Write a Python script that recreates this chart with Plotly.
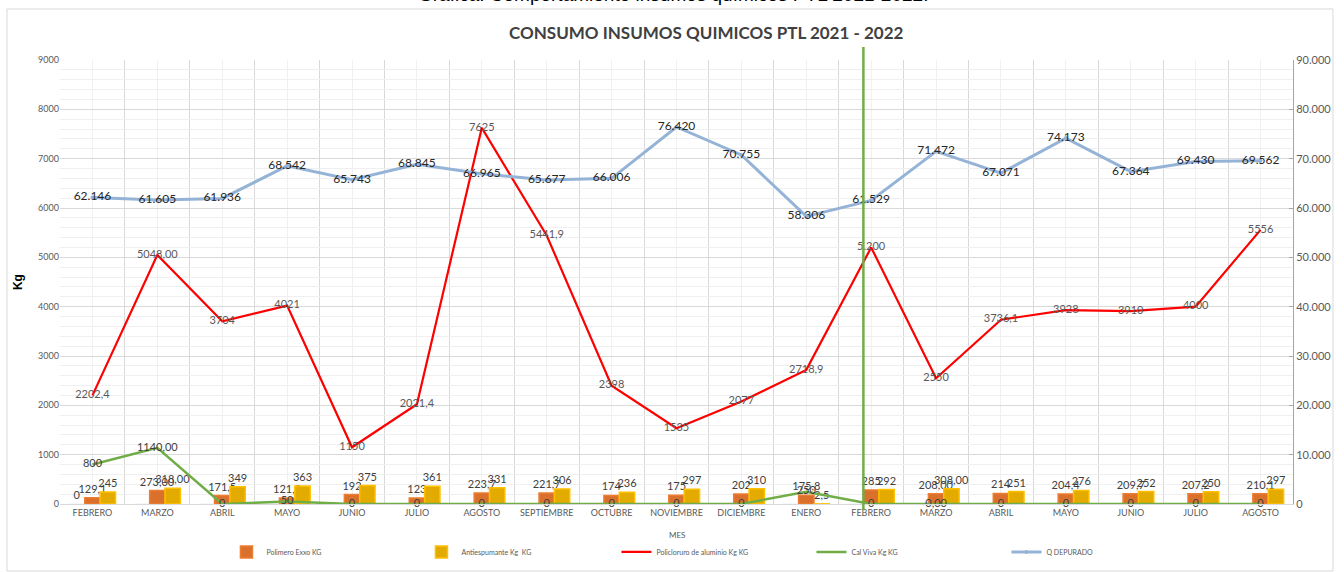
import plotly.graph_objects as go

meses = ["FEBRERO", "MARZO", "ABRIL", "MAYO", "JUNIO", "JULIO", "AGOSTO", "SEPTIEMBRE",
         "OCTUBRE", "NOVIEMBRE", "DICIEMBRE", "ENERO", "FEBRERO", "MARZO", "ABRIL",
         "MAYO", "JUNIO", "JULIO", "AGOSTO"]
pos = list(range(len(meses)))

serie_cero = [0] * 19
serie_cero_txt = ["0"] + [""] * 18

polimero = [129.1, 273.0, 171.5, 121.8, 192, 123, 223.7, 221.7, 174, 175, 202, 175.8,
            285, 208.0, 214, 204.4, 209.7, 207.2, 210.1]
polimero_txt = ["129,1", "273,00", "171,5", "121,8", "192", "123", "223,7", "221,7", "174",
                "175", "202", "175,8", "285", "208,00", "214", "204,4", "209,7", "207,2", "210,1"]

antiespumante = [245, 318.0, 349, 363, 375, 361, 331, 306, 236, 297, 310, 2.5,
                 292, 308.0, 251, 276, 252, 250, 297]
antiespumante_txt = ["245", "318,00", "349", "363", "375", "361", "331", "306", "236", "297",
                     "310", "2,5", "292", "308,00", "251", "276", "252", "250", "297"]

policloruro = [2202.4, 5048.0, 3704, 4021, 1150, 2021.4, 7625, 5441.9, 2398, 1535, 2077,
               2718.9, 5200, 2550, 3736.1, 3928, 3910, 4000, 5556]
policloruro_txt = ["2202,4", "5048,00", "3704", "4021", "1150", "2021,4", "7625", "5441,9",
                   "2398", "1535", "2077", "2718,9", "5.200", "2550", "3736,1", "3928",
                   "3910", "4000", "5556"]

cal_viva = [800, 1140, 0, 50, 0, 0, 0, 0, 0, 0, 0, 250, 0, 0, 0, 0, 0, 0, 0]
cal_viva_txt = ["800", "1140,00", "0", "50", "0", "0", "0", "0", "0", "0", "0", "250",
                "0", "0,00", "0", "0", "0", "0", "0"]

q_depurado = [62146, 61605, 61936, 68542, 65743, 68845, 66965, 65677, 66006, 76420, 70755,
              58306, 61529, 71472, 67071, 74173, 67364, 69430, 69562]
q_depurado_txt = ["62.146", "61.605", "61.936", "68.542", "65.743", "68.845", "66.965",
                  "65.677", "66.006", "76.420", "70.755", "58.306", "61.529", "71.472",
                  "67.071", "74.173", "67.364", "69.430", "69.562"]

FONT = "Lato, Liberation Sans, sans-serif"
LBL = dict(family=FONT, size=11, color="#404040")

fig = go.Figure()
fig.add_trace(go.Bar(x=pos, y=serie_cero, text=serie_cero_txt, textposition="outside",
                     textfont=LBL, marker_color="rgba(0,0,0,0)", showlegend=False,
                     cliponaxis=False, constraintext="none", hoverinfo="skip"))
fig.add_trace(go.Bar(x=pos, y=polimero, name="Polimero Exxo KG", text=polimero_txt,
                     textposition="outside", textfont=LBL, cliponaxis=False,
                     constraintext="none",
                     marker=dict(color="#D9712D", line=dict(color="#ED7D31", width=1.5))))
fig.add_trace(go.Bar(x=pos, y=antiespumante, name="Antiespumante Kg  KG", text=antiespumante_txt,
                     textposition="outside", textfont=LBL, cliponaxis=False,
                     constraintext="none",
                     marker=dict(color="#E3AA00", line=dict(color="#FFC000", width=1.5))))
fig.add_trace(go.Scatter(x=pos, y=policloruro, name="Policloruro de aluminio Kg KG",
                         mode="lines+text", text=policloruro_txt, textposition="middle center",
                         textfont=dict(family=FONT, size=11, color="#595959"),
                         line=dict(color="#FF0000", width=2.2), cliponaxis=False))
fig.add_trace(go.Scatter(x=pos, y=cal_viva, name="Cal Viva Kg KG",
                         mode="lines+text", text=cal_viva_txt, textposition="middle center",
                         textfont=LBL, line=dict(color="#70AD47", width=2.5), cliponaxis=False))
fig.add_trace(go.Scatter(x=pos, y=q_depurado, name="Q DEPURADO", yaxis="y2",
                         mode="lines+markers+text", text=q_depurado_txt,
                         textposition="middle center",
                         textfont=dict(family=FONT, size=12, color="#262626"),
                         line=dict(color="#95B3D7", width=3),
                         marker=dict(size=4, color="#95B3D7"), cliponaxis=False))

boundaries = [p - 0.5 for p in pos] + [pos[-1] + 0.5]

fig.update_layout(
    width=1344, height=572,
    margin=dict(l=60, r=51, t=60, b=68, autoexpand=False),
    paper_bgcolor="white", plot_bgcolor="white",
    separators=",.",
    barmode="group", bargap=0.29, bargroupgap=0,
    font=dict(family=FONT, color="#595959"),
    showlegend=True,
    legend=dict(orientation="h", x=0.135, xanchor="left", y=-0.108, yanchor="middle",
                entrywidth=150, entrywidthmode="pixels", itemwidth=30,
                font=dict(family=FONT, size=7, color="#595959")),
    xaxis=dict(range=[-0.5, 18.5], tickmode="array", tickvals=pos, ticktext=meses,
               tickfont=dict(size=9, color="#595959"), showgrid=True, gridcolor="#F0F0F0",
               showline=True, linecolor="#D9D9D9", ticks="", zeroline=False,
               minor=dict(tickmode="array", tickvals=boundaries, showgrid=True,
                          gridcolor="#D9D9D9", gridwidth=1)),
    yaxis=dict(range=[0, 9000], dtick=1000, tickformat="d",
               tickfont=dict(size=9, color="#595959"), showgrid=True, gridcolor="#D9D9D9",
               gridwidth=1.3, zeroline=False, ticks="",
               minor=dict(dtick=200, showgrid=True, gridcolor="#EFEFEF")),
    yaxis2=dict(range=[0, 90000], dtick=10000, tickformat=",d", overlaying="y", side="right",
                tickfont=dict(size=11, color="#595959"), showgrid=False, zeroline=False,
                showline=True, linecolor="#A6A6A6", ticks="inside", ticklen=4,
                tickcolor="#A6A6A6"),
)

fig.add_shape(type="rect", xref="paper", yref="paper", x0=-0.043, x1=1.0324,
              y0=-0.1509, y1=1.1149, line=dict(color="#D9D9D9", width=1), layer="below")
fig.add_shape(type="line", xref="x", yref="paper", x0=11.88, x1=11.88, y0=-0.014, y1=1.029,
              line=dict(color="#70AD47", width=2.5))

fig.add_annotation(text="Gráfica. Comportamiento insumos químicos PTL 2021-2022.",
                   xref="paper", yref="paper", x=0.497, y=1.119, xanchor="center",
                   yanchor="bottom", showarrow=False,
                   font=dict(family="Liberation Sans, Arial, sans-serif", size=19, color="#000000"))
fig.add_annotation(text="<b>CONSUMO INSUMOS QUIMICOS PTL 2021 - 2022</b>",
                   xref="paper", yref="paper", x=0.524, y=1.061, xanchor="center",
                   yanchor="middle", showarrow=False,
                   font=dict(family=FONT, size=17, color="#404040"))
fig.add_annotation(text="<b>Kg</b>", xref="paper", yref="paper", x=-0.034, y=0.5,
                   textangle=-90, showarrow=False, xanchor="center", yanchor="middle",
                   font=dict(family="Liberation Sans, Arial, sans-serif", size=12, color="#000000"))
fig.add_annotation(text="MES", xref="paper", yref="paper", x=0.5, y=-0.07,
                   showarrow=False, xanchor="center", yanchor="middle",
                   font=dict(family=FONT, size=8, color="#595959"))

fig.write_html("out.html", config={"displayModeBar": False},
               post_script="document.body.style.margin='0';document.body.style.overflow='hidden';")
